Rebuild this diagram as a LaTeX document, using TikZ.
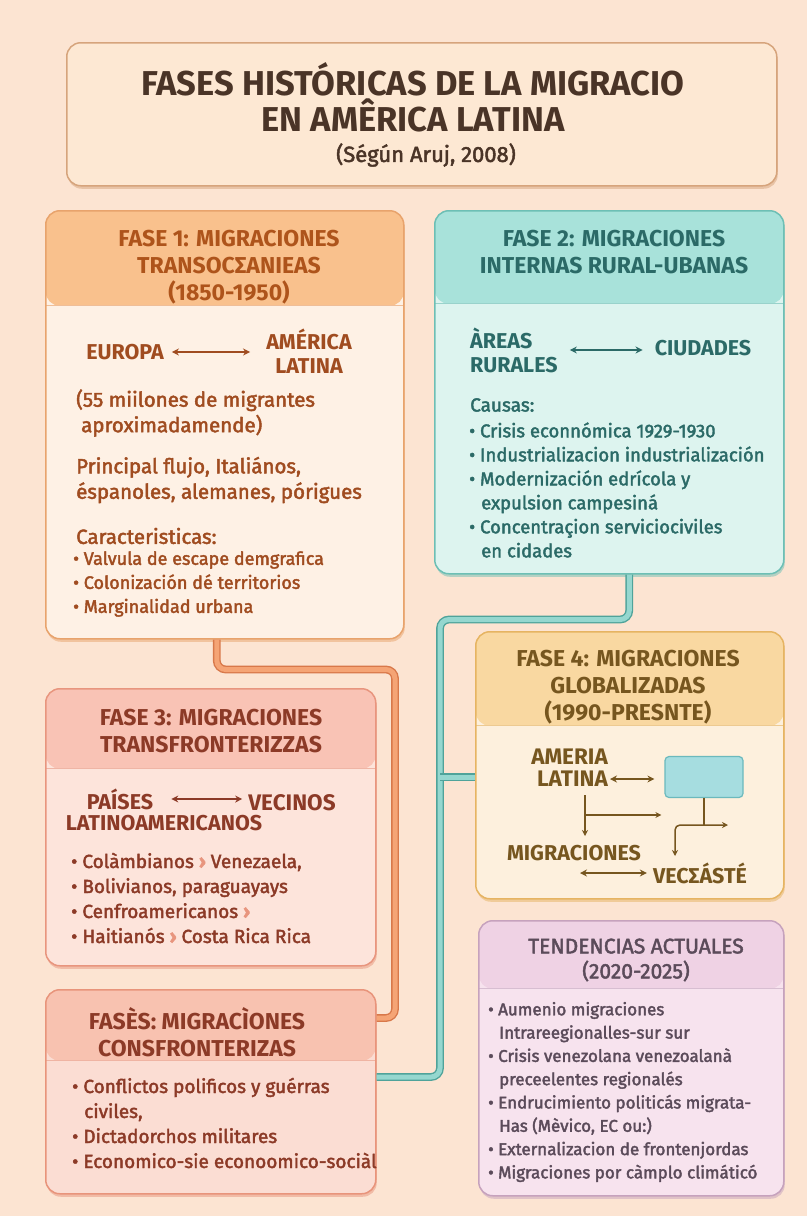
\documentclass[tikz,border=0pt]{standalone}
\usepackage{fontspec}
\setmainfont{Fira Sans}
\newfontfamily\fmed{Fira Sans}[FakeBold=2.2]
\usetikzlibrary{arrows.meta,shadows,positioning}

\definecolor{bgpeach}{HTML}{FCE4D2}
\definecolor{ttlbody}{HTML}{FDE8D3}
\definecolor{ttlline}{HTML}{D6A47C}
\definecolor{ttltext}{HTML}{4A3427}
\definecolor{fAhead}{HTML}{F9C18D}
\definecolor{fAbody}{HTML}{FEF1E5}
\definecolor{fAline}{HTML}{E8A36C}
\definecolor{fAtext}{HTML}{A04C20}
\definecolor{fBhead}{HTML}{A8E2DA}
\definecolor{fBbody}{HTML}{DDF4EF}
\definecolor{fBline}{HTML}{6DBFB5}
\definecolor{fBtext}{HTML}{2B6A67}
\definecolor{fChead}{HTML}{F9C3B5}
\definecolor{fCbody}{HTML}{FDE4DB}
\definecolor{fCline}{HTML}{E8957E}
\definecolor{fCtext}{HTML}{8C3A27}
\definecolor{fDhead}{HTML}{F9D8A1}
\definecolor{fDbody}{HTML}{FDF0DD}
\definecolor{fDline}{HTML}{E6B462}
\definecolor{fDtext}{HTML}{76561F}
\definecolor{fEhead}{HTML}{F8C2B0}
\definecolor{fEbody}{HTML}{FBDDD3}
\definecolor{fEline}{HTML}{E8947B}
\definecolor{fTbody}{HTML}{F7E3EE}
\definecolor{fThead}{HTML}{EFD2E4}
\definecolor{fTline}{HTML}{C6A2BD}
\definecolor{fTtext}{HTML}{5B4B5A}
\definecolor{tbxfill}{HTML}{A6DDE0}
\definecolor{tbxline}{HTML}{6BB9BD}
\definecolor{pipeOlite}{HTML}{F5A475}
\definecolor{pipeOdark}{HTML}{D8784A}
\definecolor{pipeTlite}{HTML}{95D7CF}
\definecolor{pipeTdark}{HTML}{4FA39A}

\tikzset{
  panel/.style={draw=#1line, fill=#1body, rounded corners=14pt, line width=1.5pt,
    inner sep=0pt, anchor=north west,
    drop shadow={shadow xshift=1pt, shadow yshift=-3pt, opacity=.5, fill=#1line}},
  hdr/.style 2 args={path picture={
      \fill[#1head] (path picture bounding box.north west) rectangle ([yshift=-#2]path picture bounding box.north east);
      \draw[#1line!70, line width=1pt] ([yshift=-#2]path picture bounding box.north west) -- ([yshift=-#2]path picture bounding box.north east);}},
  hd/.style={font=\fontsize{23}{27}\selectfont\bfseries, align=center, inner sep=0pt},
  big/.style={font=\fontsize{21.5}{24}\selectfont\bfseries, inner sep=2pt},
  txt/.style={font=\fontsize{20.5}{25.5}\selectfont\fmed, align=left, inner sep=0pt, anchor=west},
  lst/.style={font=\fontsize{18}{24}\selectfont\fmed, align=left, inner sep=0pt, anchor=west},
  dbl/.style={<->, >={Stealth[length=7pt,width=7pt]}, line width=1.7pt},
  opipe/.style={draw=pipeOdark, double=pipeOlite, double distance=5pt, line width=1.4pt, rounded corners=9pt},
  tpipe/.style={draw=pipeTdark, double=pipeTlite, double distance=5pt, line width=1.4pt, rounded corners=9pt},
}

\begin{document}
\begin{tikzpicture}[x=1pt,y=-1pt]
\fill[bgpeach] (0,0) rectangle (807,1216);
\useasboundingbox (0,0) rectangle (807,1216);

% title
\node[panel=ttl, minimum width=710pt, minimum height=143pt] (title) at (66,42) {};
\node[font=\fontsize{34.5}{36}\selectfont\bfseries, text=ttltext, align=center] (ttl) at (413,97) {FASES HISTÓRICAS DE LA MIGRACIO\\EN AMÊRICA LATINA};
\node[font=\fontsize{22}{26}\selectfont\fmed, text=ttltext] (sub) at (426,155) {(Ségún Aruj, 2008)};

% boxes
\node[panel=fA, hdr={fA}{95pt}, minimum width=358pt, minimum height=428pt] (f1) at (45,210) {};
\node[panel=fB, hdr={fB}{93pt}, minimum width=349pt, minimum height=363pt] (f2) at (434,210) {};
\node[panel=fC, hdr={fC}{80pt}, minimum width=330pt, minimum height=277pt] (f3) at (45,688) {};
\node[panel=fD, hdr={fD}{94pt}, minimum width=308pt, minimum height=267pt] (f4) at (475,631) {};
\node[panel=fE, hdr={fE}{71pt}, minimum width=330pt, minimum height=204pt] (f5) at (45,989) {};
\node[panel=fT, hdr={fT}{68pt}, minimum width=305pt, minimum height=275pt] (f6) at (478,920) {};

% pipes
\draw[opipe] ([xshift=-8pt]f1.south) -- ++(0,30) -| (395,1018) -- (f5.east |- 0,1018);
\draw[tpipe] ([xshift=20pt]f2.south) -- ++(0,45) -| (440,1077) -- (f5.east |- 0,1077);
\draw[tpipe, rounded corners=0pt] (440,777) -- (f4.west |- 0,777);

% fase 1
\node[hd, text=fAtext!85!orange] (f1h) at (229,267) {FASE 1: MIGRACIONES\\TRANSOCΣANIEAS\\(1850-1950)};
\node[big, text=fAtext] (eur) at (125,352) {EUROPA};
\node[big, text=fAtext, align=center] (aml) at (309,351) {AMÉRICA\\LATINA};
\draw[dbl, fAtext, shorten <=6pt, shorten >=14pt] (eur) -- (aml.west |- eur.east);
\node[txt, text=fAtext] (f1a) at (76,413) {(55 miilones de migrantes\\\hspace{5pt}aproximadamende)};
\node[txt, text=fAtext] (f1b) at (76,480) {Principal flujo, Italiános,\\éspanoles, alemanes, pórigues};
\node[txt, text=fAtext] (f1c) at (76,536) {Caracteristicas:};
\node[lst, text=fAtext] (f1d) at (73,584) {• Valvula de escape demgrafica\\• Colonización dé territorios\\• Marginalidad urbana};

% fase 2
\node[hd, text=fBtext] (f2h) at (614,252) {FASE 2: MIGRACIONES\\INTERNAS RURAL-UBANAS};
\node[big, text=fBtext, align=left, anchor=west] (rur) at (468,350) {ÀREAS\\RURALES};
\node[big, text=fBtext] (ciu) at (703,348) {CIUDADES};
\draw[dbl, fBtext, shorten <=10pt, shorten >=10pt] (rur.east) -- (ciu.west |- rur.east);
\node[txt, text=fBtext, font=\fontsize{19}{24}\selectfont\fmed] (f2c) at (470,405) {Causas:};
\node[lst, text=fBtext, font=\fontsize{18.5}{24}\selectfont\fmed] (f2d) at (469,490) {• Crisis econnómica 1929-1930\\• Industrializacion industrialización\\• Modernización edrícola y\\\hspace{12pt}expulsion campesiná\\• Concentraçion serviciociviles\\\hspace{12pt}en cidades};

% fase 3
\node[hd, text=fCtext] (f3h) at (211,731) {FASE 3: MIGRACIONES\\TRANSFRONTERIZZAS};
\node[big, text=fCtext] (pai) at (120,799) {PAÍSES};
\node[big, text=fCtext, font=\fontsize{22.5}{24}\selectfont\bfseries] (vec) at (292,803) {VECINOS};
\node[big, text=fCtext] (lat) at (164,823) {LATINOAMERICANOS};
\draw[dbl, fCtext, shorten <=16pt, shorten >=4pt] (pai.east) -- (vec.west |- pai.east);
\node[lst, text=fCtext, font=\fontsize{19}{25}\selectfont\fmed] (f3b) at (71,898) {• Colàmbianos {\bfseries\textcolor{fCline}{›}} Venezaela,\\• Bolivianos, paraguayays\\• Cenfroamericanos {\bfseries\textcolor{fCline}{›}}\\• Haitianós {\bfseries\textcolor{fCline}{›}} Costa Rica Rica};

% fase 4
\node[hd, text=fDtext] (f4h) at (628,687) {FASE 4: MIGRACIONES\\GLOBALIZADAS\\(1990-PRESNTE)};
\node[big, text=fDtext, align=right, anchor=east, font=\fontsize{22.5}{22}\selectfont\bfseries] (ame) at (610,768) {AMERIA\\LATINA};
\node[draw=tbxline, fill=tbxfill, rounded corners=4pt, minimum width=78pt, minimum height=41pt, line width=1.2pt] (tbx) at (704,777) {};
\node[big, text=fDtext] (mig) at (574,853) {MIGRACIONES};
\node[big, text=fDtext] (vcs) at (700,873) {VECΣÁSTÉ};
\draw[dbl, fDtext, line width=1.5pt, shorten >=10pt] (ame.east |- 0,779) -- (tbx.west |- 0,779);
\draw[fDtext, line width=1.5pt, -{Stealth[length=6pt,width=6pt]}] (585,795) -- (585,836);
\draw[fDtext, line width=1.5pt, -{Stealth[length=6pt,width=6pt]}, shorten >=3pt] (585,815) -- (tbx.west |- 0,815);
\draw[fDtext, line width=1.5pt] (tbx.south) -- ++(0,27);
\draw[fDtext, line width=1.5pt, rounded corners=5pt, {Stealth[length=6pt,width=6pt]}-{Stealth[length=6pt,width=6pt]}] (675,856) |- (728,825);
\draw[dbl, fDtext, line width=1.5pt, shorten >=4pt] ([xshift=6pt]mig.south |- vcs.west) -- (vcs.west);

% fase 5
\node[hd, text=fCtext] (f5h) at (197,1032) {FASÈS: MIGRACÌONES\\CONSFRONTERIZAS};
\node[lst, text=fCtext, font=\fontsize{19}{25}\selectfont\fmed] (f5b) at (72,1123) {• Conflictos polificos y guérras\\\hspace{12pt}civiles,\\• Dictadorchos militares\\• Economico-sie econoomico-sociàl};

% tendencias
\node[hd, text=fTtext, font=\fontsize{21}{25}\selectfont\fmed] (f6h) at (636,960) {TENDENCIAS ACTUALES\\(2020-2025)};
\node[lst, text=fTtext, font=\fontsize{17}{23.3}\selectfont\fmed] (f6b) at (488,1092) {• Aumenio migraciones\\\hspace{11pt}Intrareegionalles-sur sur\\• Crisis venezolana venezoalanà\\\hspace{11pt}preceelentes regionalés\\• Endrucimiento politicás migrata-\\\hspace{11pt}Has (Mèvico, EC ou:)\\• Externalizacion de frontenjordas\\• Migraciones por càmplo climáticó};
\end{tikzpicture}
\end{document}
